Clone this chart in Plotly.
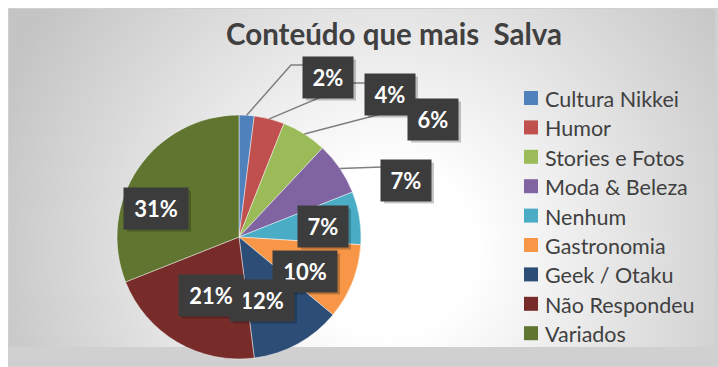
import base64
import math
import plotly.graph_objects as go

W, H = 718, 367

# --- data -------------------------------------------------------------
categorias = ["Cultura Nikkei", "Humor", "Stories e Fotos", "Moda & Beleza",
              "Nenhum", "Gastronomia", "Geek / Otaku", "Não Respondeu", "Variados"]
percentuais = [2, 4, 6, 7, 7, 10, 12, 21, 31]
cores = ["#4F81BD", "#C0504D", "#9BBB59", "#8064A2", "#4BACC6",
         "#F79646", "#2C4D75", "#772C2A", "#5F7530"]
titulo = "Conteúdo que mais\u00a0 Salva"

# --- layout helpers (pixel space) -------------------------------------
CX, CY, R = 239, 237, 122          # pie centre / radius in px
label_centres = [(328, 77), (390, 94), (433, 119), (406, 180), (323, 226),
                 (305, 271), (262, 300), (211, 295), (156, 208)]
leader_points = {0: [(291, 65), (303, 65)],
                 1: [(354, 83), (365, 83)],
                 2: [(396, 110), (408, 110)],
                 3: [(382, 167)]}
LEG_X, LEG_Y0, LEG_DY, LEG_SQ = 524, 98, 29.4, 14


def px(x):
    return x / W


def py(y):
    return 1 - y / H


# radial-gradient backdrop
svg = f'''<svg xmlns="http://www.w3.org/2000/svg" width="{W}" height="{H}" viewBox="0 0 {W} {H}">
<defs><radialGradient id="g" gradientUnits="userSpaceOnUse" cx="390" cy="250" r="420">
<stop offset="0" stop-color="#ffffff"/><stop offset="0.2" stop-color="#ffffff"/>
<stop offset="1" stop-color="#c4c4c4"/></radialGradient></defs>
<rect x="0" y="0" width="{W}" height="{H}" fill="#ffffff"/>
<rect x="8" y="8" width="{W - 8}" height="{H - 8}" fill="#d0d0d0"/>
<rect x="9" y="9" width="706" height="338" fill="url(#g)"/>
</svg>'''
bg_src = "data:image/svg+xml;base64," + base64.b64encode(svg.encode()).decode()

fig = go.Figure()
fig.add_trace(go.Pie(
    labels=categorias,
    values=percentuais,
    sort=False,
    direction="clockwise",
    rotation=0,
    textinfo="none",
    hoverinfo="label+percent",
    showlegend=False,
    marker=dict(colors=cores, line=dict(color="rgba(255,255,255,0.6)", width=0.75)),
    domain=dict(x=[px(CX - R), px(CX + R)], y=[py(CY + R), py(CY - R)]),
))

total = sum(percentuais)
shapes = []
annotations = []

# leader lines from slice edge
cum = 0
mids = []
for v in percentuais:
    mids.append((cum + v / 2) / total * 2 * math.pi)
    cum += v
for i, pts in leader_points.items():
    a = mids[i]
    sx, sy = CX + R * math.sin(a), CY - R * math.cos(a)
    path = f"M {px(sx)} {py(sy)} " + " ".join(f"L {px(x)} {py(y)}" for x, y in pts)
    shapes.append(dict(type="path", path=path, xref="paper", yref="paper",
                       line=dict(color="#7f7f7f", width=1.5), layer="above"))

# value labels in dark boxes
for v, (lx, ly) in zip(percentuais, label_centres):
    bw = 50 if v < 10 else 64
    bh = 41
    shapes.append(dict(type="rect", xref="paper", yref="paper",
                       x0=px(lx - bw / 2 + 3), x1=px(lx + bw / 2 + 3),
                       y0=py(ly + bh / 2 + 3), y1=py(ly - bh / 2 + 3),
                       fillcolor="rgba(0,0,0,0.22)", line=dict(width=0), layer="above"))
    annotations.append(dict(text=f"<b>{v}%</b>", x=px(lx), y=py(ly),
                            xref="paper", yref="paper", xanchor="center", yanchor="middle",
                            showarrow=False, width=bw, height=bh, borderpad=0,
                            bgcolor="#3c3c3c",
                            font=dict(family="Lato", size=22, color="#ffffff")))

# legend: colour square + category name
for i, (nome, cor) in enumerate(zip(categorias, cores)):
    yc = LEG_Y0 + i * LEG_DY
    shapes.append(dict(type="rect", xref="paper", yref="paper",
                       x0=px(LEG_X), x1=px(LEG_X + LEG_SQ),
                       y0=py(yc + LEG_SQ / 2), y1=py(yc - LEG_SQ / 2),
                       fillcolor=cor, line=dict(width=0)))
    annotations.append(dict(text=nome, x=px(LEG_X + LEG_SQ + 5), y=py(yc + 1),
                            xref="paper", yref="paper", xanchor="left", yanchor="middle",
                            showarrow=False,
                            font=dict(family="Lato", size=21.5, color="#404040")))

fig.update_layout(
    width=W, height=H, autosize=False,
    margin=dict(l=0, r=0, t=0, b=0),
    paper_bgcolor="#ffffff",
    title=dict(text=f"<b>{titulo}</b>", x=px(394), y=py(35), xanchor="center",
               yanchor="middle", xref="paper", yref="paper",
               font=dict(family="Lato", size=29.5, color="#404040")),
    showlegend=False,
    images=[dict(source=bg_src, xref="paper", yref="paper", x=0, y=1,
                 sizex=1, sizey=1, xanchor="left", yanchor="top",
                 sizing="stretch", layer="below")],
    shapes=shapes,
    annotations=annotations,
)

fig.write_html("out.html")
